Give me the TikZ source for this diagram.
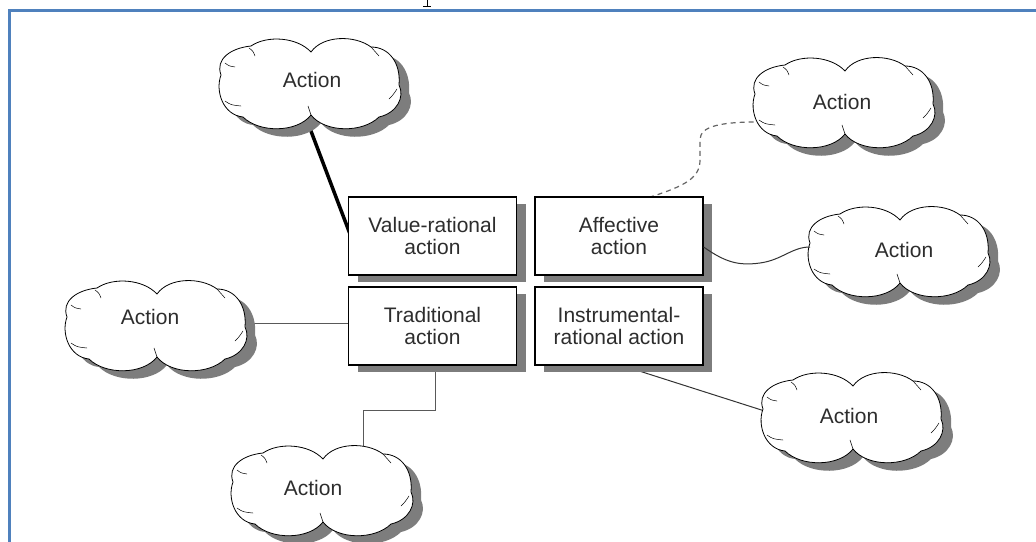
\documentclass[tikz,border=0pt]{standalone}
\usepackage{fontspec}
\setmainfont{Liberation Sans}
\usetikzlibrary{shadows,calc}
\definecolor{frameblue}{RGB}{79,129,189}
\definecolor{shadowc}{RGB}{125,125,125}
\definecolor{txt}{RGB}{45,45,45}
\pgfdeclarelayer{conn}
\pgfsetlayers{conn,main}
\newcommand\cloudoutline{(2,-31) .. controls (-12,-46) and (-42,-48) .. (-58,-37) .. controls (-78,-35) and (-94,-24) .. (-88,-8) .. controls (-94,8) and (-86,32) .. (-66,34) .. controls (-50,50) and (-12,50) .. (2,32) .. controls (16,50) and (54,50) .. (70,34) .. controls (88,30) and (96,14) .. (90,2) .. controls (92,-20) and (80,-36) .. (62,-36) .. controls (46,-48) and (14,-48) .. (2,-31) -- cycle}
\tikzset{
  cloudshape/.pic={
    \fill[shadowc, shift={(10,8)}] \cloudoutline;
    \filldraw[fill=white, draw=black, line width=0.8pt, line join=round] \cloudoutline;
    \draw[line width=0.5pt, line cap=round] (-84,-20) .. controls (-80,-17) .. (-74,-16);
    \draw[line width=0.5pt, line cap=round] (-84,18) .. controls (-78,22) .. (-68,23);
    \draw[line width=0.5pt, line cap=round] (-60,-35) .. controls (-56,-32) .. (-54,-27);
    \draw[line width=0.5pt, line cap=round] (2,32) .. controls (1,28) .. (-1,23);
    \draw[line width=0.5pt, line cap=round] (88,6) .. controls (84,12) .. (80,16);
    \draw[line width=0.5pt, line cap=round] (62,-36) .. controls (66,-32) .. (70,-27);
  },
  cloudtext/.style={font=\fontsize{21}{22}\selectfont, text=txt, inner sep=0pt},
  actbox/.style={draw=black, line width=1.2pt, fill=white, minimum width=168pt,
    minimum height=78pt, align=center, font=\fontsize{21}{22}\selectfont,
    text=txt, inner sep=0pt,
    drop shadow={shadow xshift=9pt, shadow yshift=-7pt, fill=shadowc, opacity=1}},
  thickline/.style={line width=3.5pt, draw=black},
  thinline/.style={line width=1pt, draw=black!65},
  darkline/.style={line width=1pt, draw=black!80},
  dashline/.style={line width=1.2pt, draw=black!60, dash pattern=on 5pt off 4pt}
}
\begin{document}
\begin{tikzpicture}[x=1pt, y=-1pt]
\useasboundingbox (0,0) rectangle (1036,541);
% frame
\draw[frameblue, line width=3pt] (9,545) -- (9,10) -- (1040,10);
\draw[line width=1pt] (427,0) -- (427,6);
\draw[line width=1pt] (423,6) -- (431,6);
% clouds
\pic at (309,83) {cloudshape};
\node[cloudtext] (c1) at (312,80) {Action};
\pic at (843,102) {cloudshape};
\node[cloudtext] (c2) at (842,102) {Action};
\pic at (898,251) {cloudshape};
\node[cloudtext] (c3) at (904,250) {Action};
\pic at (155,325) {cloudshape};
\node[cloudtext] (c4) at (150,317) {Action};
\pic at (321,490) {cloudshape};
\node[cloudtext] (c5) at (313,488) {Action};
\pic at (851,417) {cloudshape};
\node[cloudtext] (c6) at (849,416) {Action};
% boxes
\node[actbox] (vr) at (432.5,236) {Value-rational\\action};
\node[actbox] (af) at (619,236) {Affective\\action};
\node[actbox] (tr) at (432.5,326) {Traditional\\action};
\node[actbox] (in) at (619,326) {Instrumental-\\rational action};
% connectors
\begin{pgfonlayer}{conn}
\draw[thickline] ($(c1)+(-9,30)$) -- ($(vr.west)+(4,3)$);
\draw[dashline] ($(af.north)+(30,1)$) .. controls (685,186) and (700,178) .. (700,160) -- (700,140) .. controls (700,126) and (720,121) .. ($(c2)+(-69,20)$);
\draw[thinline] ($(c4)+(90,6)$) -- ($(tr.west)+(3,-3)$);
\draw[thinline] ($(tr.south)+(2.5,-2)$) -- (435,410) -| ($(c5)+(50,-33)$);
\draw[darkline] ($(in.south)+(-3,-2)$) -- ($(c6)+(-75,-2)$);
\end{pgfonlayer}
\draw[darkline] ($(af.east)+(0,11)$) .. controls (725,262) and (738,266) .. (760,263) .. controls (782,260) and (792,247) .. ($(c3)+(-94,-3)$);
\end{tikzpicture}
\end{document}
